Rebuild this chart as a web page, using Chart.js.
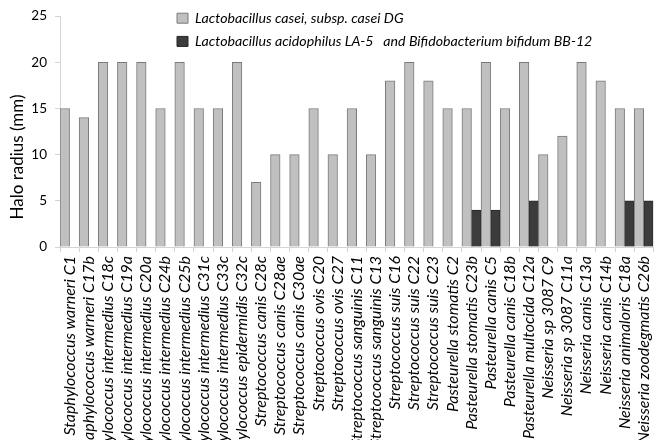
<!DOCTYPE html>
<html>
<head>
<meta charset="utf-8">
<title>Halo radius by strain</title>
<script src="https://cdn.jsdelivr.net/npm/chart.js@4/dist/chart.umd.min.js"></script>
<style>
  html, body { margin: 0; padding: 0; background: #ffffff; }
  #wrap { width: 667px; height: 440px; }
</style>
</head>
<body>
<div id="wrap"><canvas id="c" width="667" height="440"></canvas></div>
<script>
// Tested strains (x categories)
const strains = [
  'Staphylococcus warneri C1',
  'Staphylococcus warneri C17b',
  'Staphylococcus intermedius C18c',
  'Staphylococcus intermedius C19a',
  'Staphylococcus intermedius C20a',
  'Staphylococcus intermedius C24b',
  'Staphylococcus intermedius C25b',
  'Staphylococcus intermedius C31c',
  'Staphylococcus intermedius C33c',
  'Staphylococcus epidermidis C32c',
  'Streptococcus canis C28c',
  'Streptococcus canis C28ae',
  'Streptococcus canis C30ae',
  'Streptococcus ovis C20',
  'Streptococcus ovis C27',
  'Streptococcus sanguinis C11',
  'Streptococcus sanguinis C13',
  'Streptococcus suis C16',
  'Streptococcus suis C22',
  'Streptococcus suis C23',
  'Pasteurella stomatis C2',
  'Pasteurella stomatis C23b',
  'Pasteurella canis C5',
  'Pasteurella canis C18b',
  'Pasteurella multocida C12a',
  'Neisseria sp 3087 C9',
  'Neisseria sp 3087 C11a',
  'Neisseria canis C13a',
  'Neisseria canis C14b',
  'Neisseria animaloris C18a',
  'Neisseria zoodegmatis C26b'
];

// Halo radius (mm), L. casei subsp. casei DG
const caseiDG = [15, 14, 20, 20, 20, 15, 20, 15, 15, 20,
                 7, 10, 10, 15, 10, 15, 10, 18, 20, 18,
                 15, 15, 20, 15, 20, 10, 12, 20, 18, 15, 15];

// Halo radius (mm), L. acidophilus LA-5 + B. bifidum BB-12 (no halo = null)
const la5bb12 = [null, null, null, null, null, null, null, null, null, null,
                 null, null, null, null, null, null, null, null, null, null,
                 null, 4, 4, null, 5, null, null, null, null, 5, 5];

// Y axis ticks
const yTicks = [0, 5, 10, 15, 20, 25];

const seriesNames = [
  'Lactobacillus casei, subsp. casei DG',
  'Lactobacillus acidophilus LA-5   and Bifidobacterium bifidum BB-12'
];

const yTitle = 'Halo radius (mm)';

// Legend sits inside the plot, offset from the left axis
const legendPlace = {
  id: 'legendPlace',
  afterLayout(chart) {
    const lg = chart.legend;
    if (!lg) return;
    lg.left = chart.chartArea.left + 108;
    lg.top = chart.chartArea.top - 14;
  }
};

// Rotated caption for the value axis
const yCaption = {
  id: 'yCaption',
  afterDraw(chart, args, opts) {
    const { ctx, chartArea } = chart;
    ctx.save();
    ctx.translate(opts.x, chartArea.bottom - opts.fromBottom);
    ctx.rotate(-Math.PI / 2);
    ctx.font = opts.font;
    ctx.fillStyle = opts.color;
    ctx.textAlign = 'center';
    ctx.textBaseline = 'middle';
    ctx.fillText(opts.text, 0, 0);
    ctx.restore();
  }
};

const axisGrey = '#d4d4d4';

new Chart(document.getElementById('c'), {
  type: 'bar',
  data: {
    labels: strains,
    datasets: [
      {
        label: seriesNames[0],
        data: caseiDG,
        backgroundColor: '#c0c0c0',
        borderColor: '#7a7a7a',
        borderWidth: 1,
        categoryPercentage: 1.0,
        barPercentage: 1.0
      },
      {
        label: seriesNames[1],
        data: la5bb12,
        backgroundColor: '#3c3c3c',
        borderColor: '#262626',
        borderWidth: 1,
        categoryPercentage: 1.0,
        barPercentage: 1.0
      }
    ]
  },
  options: {
    responsive: false,
    animation: false,
    devicePixelRatio: 1,
    layout: { padding: { top: 15, right: 4, bottom: 0, left: 0 } },
    plugins: {
      legend: {
        position: 'chartArea',
        align: 'start',
        labels: {
          boxWidth: 11,
          boxHeight: 10,
          padding: 9,
          color: '#000000',
          font: { family: 'Lato', size: 14.2, style: 'italic' }
        }
      },
      tooltip: { enabled: false },
      yCaption: {
        text: yTitle,
        x: 18,
        fromBottom: 90,
        font: '17px Lato',
        color: '#000000'
      }
    },
    scales: {
      x: {
        offset: true,
        grid: {
          offset: true,
          drawOnChartArea: false,
          drawTicks: true,
          tickLength: 5,
          color: axisGrey
        },
        border: { display: true, color: axisGrey },
        ticks: {
          autoSkip: false,
          minRotation: 90,
          maxRotation: 90,
          padding: 4,
          color: '#000000',
          font: { family: 'Lato', size: 16, style: 'italic' }
        },
        afterFit(scale) { scale.height = 193; }
      },
      y: {
        min: 0,
        max: 25,
        afterBuildTicks(scale) { scale.ticks = yTicks.map(v => ({ value: v })); },
        grid: {
          drawOnChartArea: false,
          drawTicks: true,
          tickLength: 5,
          color: axisGrey
        },
        border: { display: true, color: axisGrey },
        ticks: {
          padding: 8,
          color: '#000000',
          font: { family: 'Lato', size: 13.5 }
        },
        afterFit(scale) { scale.width = 60; }
      }
    }
  },
  plugins: [legendPlace, yCaption]
});
</script>
</body>
</html>
